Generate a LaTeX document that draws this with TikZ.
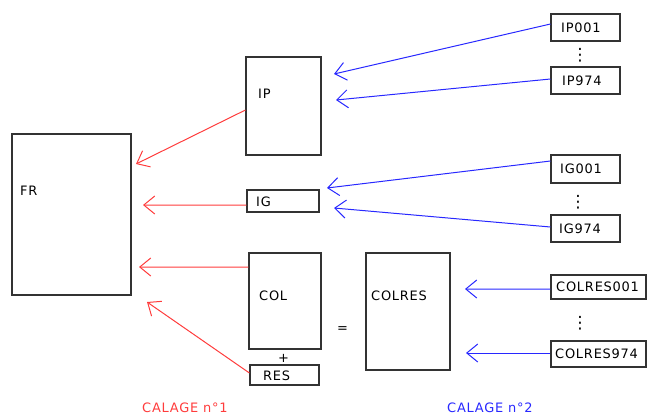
\documentclass[tikz,border=0pt]{standalone}
\usepackage{fontspec}
\setmainfont{DejaVu Sans}[LetterSpace=6]
\usetikzlibrary{arrows.meta}
\definecolor{redc}{RGB}{255,60,60}
\definecolor{bluec}{RGB}{40,40,255}
\tikzset{
  box/.style={draw=black!80, line width=1.1bp, inner sep=0pt},
  lbl/.style={anchor=west, inner sep=0pt, font=\fontsize{13}{14}\selectfont},
  vdots/.style={inner sep=0pt, font=\fontsize{17}{17}\selectfont},
  redarr/.style={draw=redc, line width=1bp, -{Straight Barb[length=11bp,width=18bp]}},
  bluearr/.style={draw=bluec, line width=1bp, -{Straight Barb[length=11bp,width=18bp]}},
}
\begin{document}
\begin{tikzpicture}[x=1bp,y=-1bp]
\useasboundingbox (0,0) rectangle (647,417);
% left boxes
\node[box, minimum width=119bp, minimum height=161bp] (FR) at (71.5,214.5) {};
\node[lbl] (FRt) at (20,191) {FR};
\node[box, minimum width=75bp, minimum height=98bp] (IP) at (283.5,106) {};
\node[lbl] (IPt) at (258,94) {IP};
\node[box, minimum width=72bp, minimum height=22bp] (IG) at (283,201) {};
\node[lbl] (IGt) at (256,202) {IG};
\node[box, minimum width=72bp, minimum height=96bp] (COL) at (285,301) {};
\node[lbl] (COLt) at (259,296) {COL};
\node[lbl] (plus) at (278,358) {+};
\node[box, minimum width=69bp, minimum height=20bp] (RES) at (284.5,375) {};
\node[lbl] (RESt) at (263,376) {RES};
\node[lbl] (eq) at (337,330) {=};
\node[box, minimum width=84bp, minimum height=117bp] (COLRES) at (408,311.5) {};
\node[lbl] (COLRESt) at (371,296) {COLRES};
% right boxes
\node[box, minimum width=69bp, minimum height=27bp] (IPa) at (585.5,27.5) {};
\node[lbl] (IPat) at (561,27.5) {IP001};
\node[vdots] (IPd) at (580,55) {⋮};
\node[box, minimum width=69bp, minimum height=27bp] (IPb) at (585.5,80.5) {};
\node[lbl] (IPbt) at (562,80.5) {IP974};
\node[box, minimum width=69bp, minimum height=28bp] (IGa) at (585.5,169) {};
\node[lbl] (IGat) at (560,169) {IG001};
\node[vdots] (IGd) at (578,202) {⋮};
\node[box, minimum width=69bp, minimum height=27bp] (IGb) at (585.5,228.5) {};
\node[lbl] (IGbt) at (559,229) {IG974};
\node[box, minimum width=95bp, minimum height=24bp] (CRa) at (598.5,287) {};
\node[lbl] (CRat) at (556,287) {COLRES001};
\node[vdots] (CRd) at (580,323) {⋮};
\node[box, minimum width=95bp, minimum height=26bp] (CRb) at (598.5,354) {};
\node[lbl] (CRbt) at (555,354) {COLRES974};
% captions
\node[lbl, text=redc] (cal1) at (142,408) {CALAGE n°1};
\node[lbl, text=bluec] (cal2) at (447,408) {CALAGE n°2};
% tips
\coordinate (r1) at (136,164);
\coordinate (r2) at (143,205);
\coordinate (r3) at (139,267);
\coordinate (r4) at (147,302);
\coordinate (b1) at (334,74);
\coordinate (b2) at (336,100);
\coordinate (b3) at (327,188);
\coordinate (b4) at (334,208);
\coordinate (b5) at (465,289);
\coordinate (b6) at (466,353);
% red arrows
\draw[redarr] ([yshift=-4bp]IP.west) -- (r1);
\draw[redarr] ([yshift=-4bp]IG.west) -- (r2);
\draw[redarr] ([yshift=34bp]COL.west) -- (r3);
\draw[redarr] ([yshift=2bp]RES.west) -- (r4);
% blue arrows
\draw[bluearr] ([yshift=3.5bp]IPa.west) -- (b1);
\draw[bluearr] ([yshift=1.5bp]IPb.west) -- (b2);
\draw[bluearr] ([yshift=8bp]IGa.west) -- (b3);
\draw[bluearr] ([yshift=1.5bp]IGb.west) -- (b4);
\draw[bluearr] ([yshift=-2bp]CRa.west) -- (b5);
\draw[bluearr] ([yshift=1bp]CRb.west) -- (b6);
\end{tikzpicture}
\end{document}
